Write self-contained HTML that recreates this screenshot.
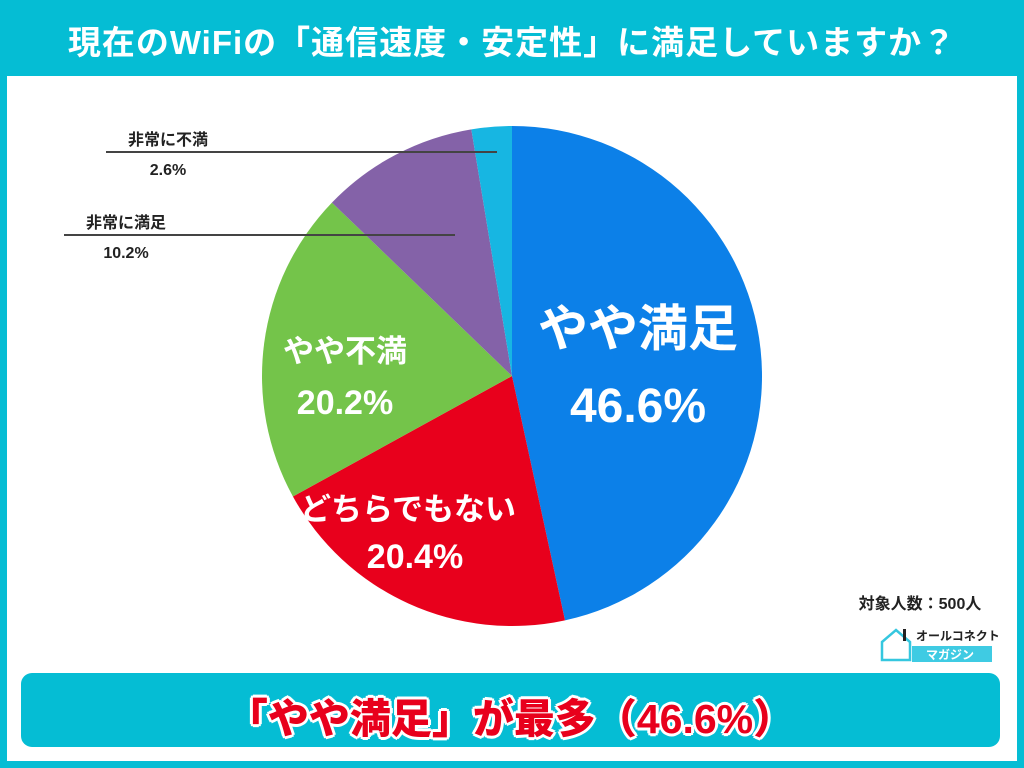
<!DOCTYPE html>
<html><head><meta charset="utf-8"><style>
body{margin:0;width:1024px;height:768px;background:#05bdd4;font-family:"Liberation Sans","Noto Sans CJK JP",sans-serif;position:relative;overflow:hidden}
#title{position:absolute;left:0;top:16px;width:1024px;text-align:center;color:#fff;font-weight:bold;font-size:33px;letter-spacing:1px}
#panel{position:absolute;left:7px;top:76px;width:1010px;height:685px;background:#fff}
#banner{position:absolute;left:21px;top:673px;width:979px;height:74px;background:#05bdd4;border-radius:11px}
#banner span{position:absolute;left:0;right:0;top:12px;text-align:center;font-size:41px;font-weight:900;color:#e8001c;text-shadow:0 0 3px #fff,2px 2px 0 #fff,-2px -2px 0 #fff,2px -2px 0 #fff,-2px 2px 0 #fff,3px 0 0 #fff,-3px 0 0 #fff,0 3px 0 #fff,0 -3px 0 #fff}
svg{position:absolute;left:0;top:0}
</style></head><body>
<div id="title">現在のWiFiの「通信速度・安定性」に満足していますか？</div>
<div id="panel"></div>
<svg id="chart" width="1024" height="768"></svg>
<div id="banner"><span>「やや満足」が最多（46.6%）</span></div>
<script>
const categories=["やや満足","どちらでもない","やや不満","非常に満足","非常に不満"];
const values=[46.6,20.4,20.2,10.2,2.6];
const colors=["#0c80e8","#e8001c","#74c44a","#8462a8","#17b6e2"];
const NS="http://www.w3.org/2000/svg";
const svg=document.getElementById('chart');
const cx=512,cy=376,r=250;
function mk(t,a){const e=document.createElementNS(NS,t);for(const k in a)e.setAttribute(k,a[k]);svg.appendChild(e);return e;}
function pt(a,rr){return [cx+rr*Math.sin(a),cy-rr*Math.cos(a)];}
const total=values.reduce((s,v)=>s+v,0);
let acc=0;
values.forEach((v,i)=>{
 const a0=acc/total*2*Math.PI;acc+=v;const a1=acc/total*2*Math.PI;
 const p0=pt(a0,r),p1=pt(a1,r);
 const p=mk('path',{d:`M${cx},${cy}L${p0[0]},${p0[1]}A${r},${r} 0 ${a1-a0>Math.PI?1:0} 1 ${p1[0]},${p1[1]}Z`,fill:colors[i]});
 
 
});
function txt(x,y,s,size,fill,anchor,name,w){const t=mk('text',{x:x,y:y,'font-size':size,'font-weight':w||'bold',fill:fill,'text-anchor':anchor||'middle'});t.textContent=s;

return t;}
const inPos=[[638,346,638,422,50,48],[408,520,415,568,31,34],[345,362,345,414,31,34]];
for(let i=0;i<3;i++){const q=inPos[i];
 txt(q[0],q[1],categories[i],q[4],'#fff','middle','slice-label-'+i);
 txt(q[2],q[3],values[i].toFixed(1)+'%',q[5],'#fff','middle','slice-value-'+i);}
const outs=[[4,106,497,152,168],[3,64,455,235,126]];
outs.forEach(o=>{const i=o[0];
 const l=mk('line',{x1:o[1],x2:o[2],y1:o[3],y2:o[3],stroke:'#444','stroke-width':2});
 
 
 txt(o[4],o[3]-7,categories[i],16,'#222','middle','outside-label-'+i);
 txt(o[4],o[3]+23,values[i].toFixed(1)+'%',16,'#222','middle','outside-value-'+i);});
txt(920,609,'対象人数：500人',16,'#222','middle','sample-size');
mk('path',{d:'M882,660 L882,642 L896,630 L910,642 L910,660 Z',fill:'none',stroke:'#35c7df','stroke-width':2.5});
mk('rect',{x:903,y:629,width:3,height:12,fill:'#222'});
txt(916,640,'オールコネクト',12,'#222','start','logo-text');
mk('rect',{x:912,y:646,width:80,height:16,fill:'#3fcbe3'});
txt(950,659,'マガジン',12,'#fff','middle','logo-subtext');
</script>
</body></html>
